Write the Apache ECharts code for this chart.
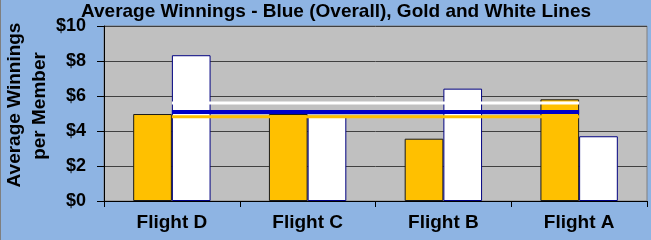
<!DOCTYPE html>
<html>
<head>
<meta charset="utf-8">
<script src="https://cdn.jsdelivr.net/npm/echarts@6/dist/echarts.min.js"></script>
<style>
html,body{margin:0;padding:0;background:#8EB4E3;}
#chart{width:651px;height:240px;}
</style>
</head>
<body>
<div id="chart"></div>
<script>
var categories = ['Flight D', 'Flight C', 'Flight B', 'Flight A'];
var goldValues = [4.97, 4.97, 3.56, 5.81];
var whiteValues = [8.33, 4.85, 6.42, 3.70];
var whiteLine = [5.60, 5.60, 5.60, 5.60];
var blueLine = [5.09, 5.09, 5.09, 5.09];
var goldLine = [4.82, 4.82, 4.82, 4.82];
var yTicks = [0, 2, 4, 6, 8, 10];

var font = 'Arial, "Liberation Sans", sans-serif';
var chart = echarts.init(document.getElementById('chart'), null, {renderer: 'canvas'});
chart.setOption({
  backgroundColor: '#8EB4E3',
  animation: false,
  title: {
    text: 'Average Winnings - Blue (Overall), Gold and White Lines',
    left: 76, top: -3,
    textStyle: {fontFamily: font, fontWeight: 'bold', fontSize: 19, color: '#000'}
  },
  graphic: [
    {type: 'line', shape: {x1: 0.5, y1: 0, x2: 0.5, y2: 240}, style: {stroke: '#7f7f7f', lineWidth: 1}},
    {type: 'text', x: 15, y: 105, rotation: Math.PI / 2,
     style: {text: 'Average Winnings', font: 'bold 19px ' + font, fill: '#000', textAlign: 'center', textVerticalAlign: 'middle'}},
    {type: 'text', x: 40, y: 106, rotation: Math.PI / 2,
     style: {text: 'per Member', font: 'bold 19px ' + font, fill: '#000', textAlign: 'center', textVerticalAlign: 'middle'}}
  ],
  grid: {
    left: 104, right: 4, top: 26, bottom: 39,
    show: true, backgroundColor: '#C0C0C0', borderColor: '#808080', borderWidth: 1
  },
  xAxis: {
    type: 'category', data: categories, boundaryGap: true,
    axisLine: {lineStyle: {color: '#000', width: 1}},
    axisTick: {show: true, length: 6, alignWithLabel: false, lineStyle: {color: '#000'}},
    axisLabel: {margin: 12, fontFamily: font, fontWeight: 'bold', fontSize: 19, color: '#000'},
    splitLine: {show: false}
  },
  yAxis: {
    type: 'value', min: yTicks[0], max: yTicks[yTicks.length - 1], interval: 2,
    axisLine: {show: true, lineStyle: {color: '#000', width: 1}},
    axisTick: {show: true, length: 7, lineStyle: {color: '#000'}},
    axisLabel: {margin: 18, fontFamily: font, fontWeight: 'bold', fontSize: 18, color: '#000',
      formatter: function (v) { return '$' + v; }},
    splitLine: {show: true, lineStyle: {color: '#404040', width: 1}}
  },
  series: [
    {type: 'bar', data: goldValues, barGap: '0%', barCategoryGap: '43%',
     itemStyle: {color: '#FFC000', borderColor: '#1a1a1a', borderWidth: 1}},
    {type: 'bar', data: whiteValues,
     itemStyle: {color: '#FFFFFF', borderColor: '#000080', borderWidth: 1}},
    {type: 'line', data: whiteLine, symbol: 'none', z: 5,
     lineStyle: {color: '#FFFFFF', width: 3}},
    {type: 'line', data: goldLine, symbol: 'none', z: 5,
     lineStyle: {color: '#FFC000', width: 3}},
    {type: 'line', data: blueLine, symbol: 'none', z: 6,
     lineStyle: {color: '#0000C8', width: 4}}
  ]
});
</script>
</body>
</html>
